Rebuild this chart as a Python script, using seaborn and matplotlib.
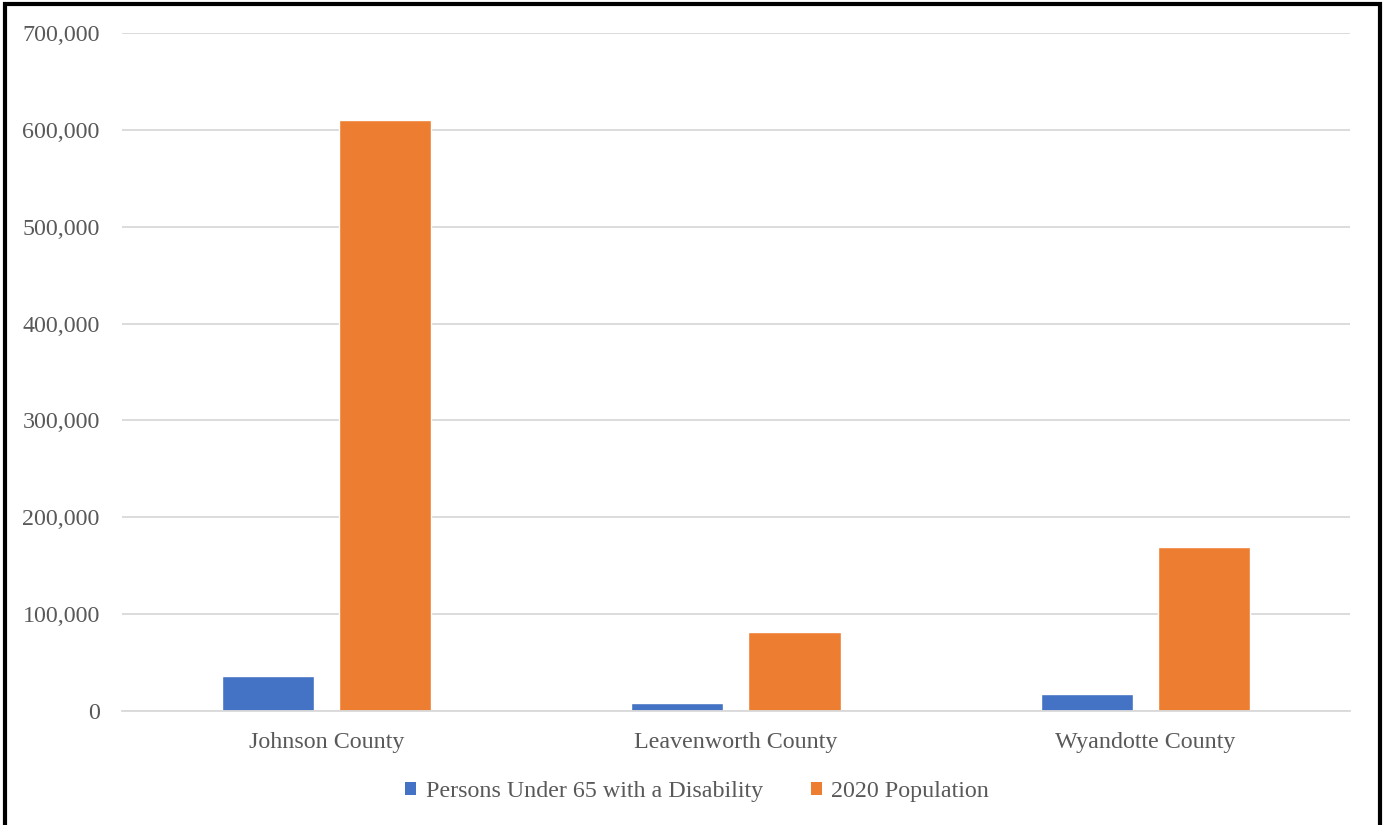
import matplotlib
matplotlib.use("Agg")
import matplotlib.pyplot as plt
from matplotlib.patches import Patch, Rectangle
from matplotlib.ticker import FuncFormatter
import pandas as pd
import seaborn as sns

counties = ["Johnson County", "Leavenworth County", "Wyandotte County"]
disability_under_65 = [36000, 8300, 17600]
population_2020 = [609863, 81881, 169245]
series_names = ["Persons Under 65 with a Disability", "2020 Population"]
series_colors = ["#4472C4", "#ED7D31"]
y_ticks = [0, 100000, 200000, 300000, 400000, 500000, 600000, 700000]

df = pd.DataFrame({
    "county": counties * 2,
    "series": [series_names[0]] * 3 + [series_names[1]] * 3,
    "value": disability_under_65 + population_2020,
})

sns.set_theme(style="white")
plt.rcParams["font.family"] = ["Liberation Serif", "DejaVu Serif"]

fig = plt.figure(figsize=(13.86, 8.25), dpi=100)
ax = fig.add_axes([0.088, 0.1382, 0.886, 0.8218])

sns.barplot(data=df, x="county", y="value", hue="series",
            palette=series_colors, width=0.572, gap=0.213,
            saturation=1, ax=ax, legend=False)

ax.set_xlim(-0.5, 2.5)
ax.set_ylim(0, 700000)
ax.set_yticks(y_ticks)
ax.yaxis.set_major_formatter(FuncFormatter(lambda v, _: f"{int(v):,}"))
ax.set_xlabel("")
ax.set_ylabel("")
ax.grid(axis="y", color="#d9d9d9", linewidth=1.3)
ax.set_axisbelow(True)
for side in ["top", "right", "left"]:
    ax.spines[side].set_visible(False)
ax.spines["bottom"].set_color("#d9d9d9")
ax.spines["bottom"].set_linewidth(1.3)
ax.tick_params(axis="both", length=0, labelsize=17.3, labelcolor="#595959")
ax.tick_params(axis="y", pad=16)
ax.tick_params(axis="x", pad=15)

handles = [Patch(facecolor=c, edgecolor="none") for c in series_colors]
fig.legend(handles, series_names, loc="center", bbox_to_anchor=(0.503, 0.040),
           ncol=2, frameon=False, fontsize=17.3, labelcolor="#595959",
           handlelength=0.45, handleheight=0.45, handletextpad=0.4,
           columnspacing=2.0)

# outer frame around the chart area
fig.patches.append(Rectangle((5 / 1386, -0.02), 1375 / 1386, 1 - 3.5 / 825 + 0.02,
                             transform=fig.transFigure, fill=False,
                             edgecolor="black", linewidth=3))

fig.savefig("out.png", dpi=100)
